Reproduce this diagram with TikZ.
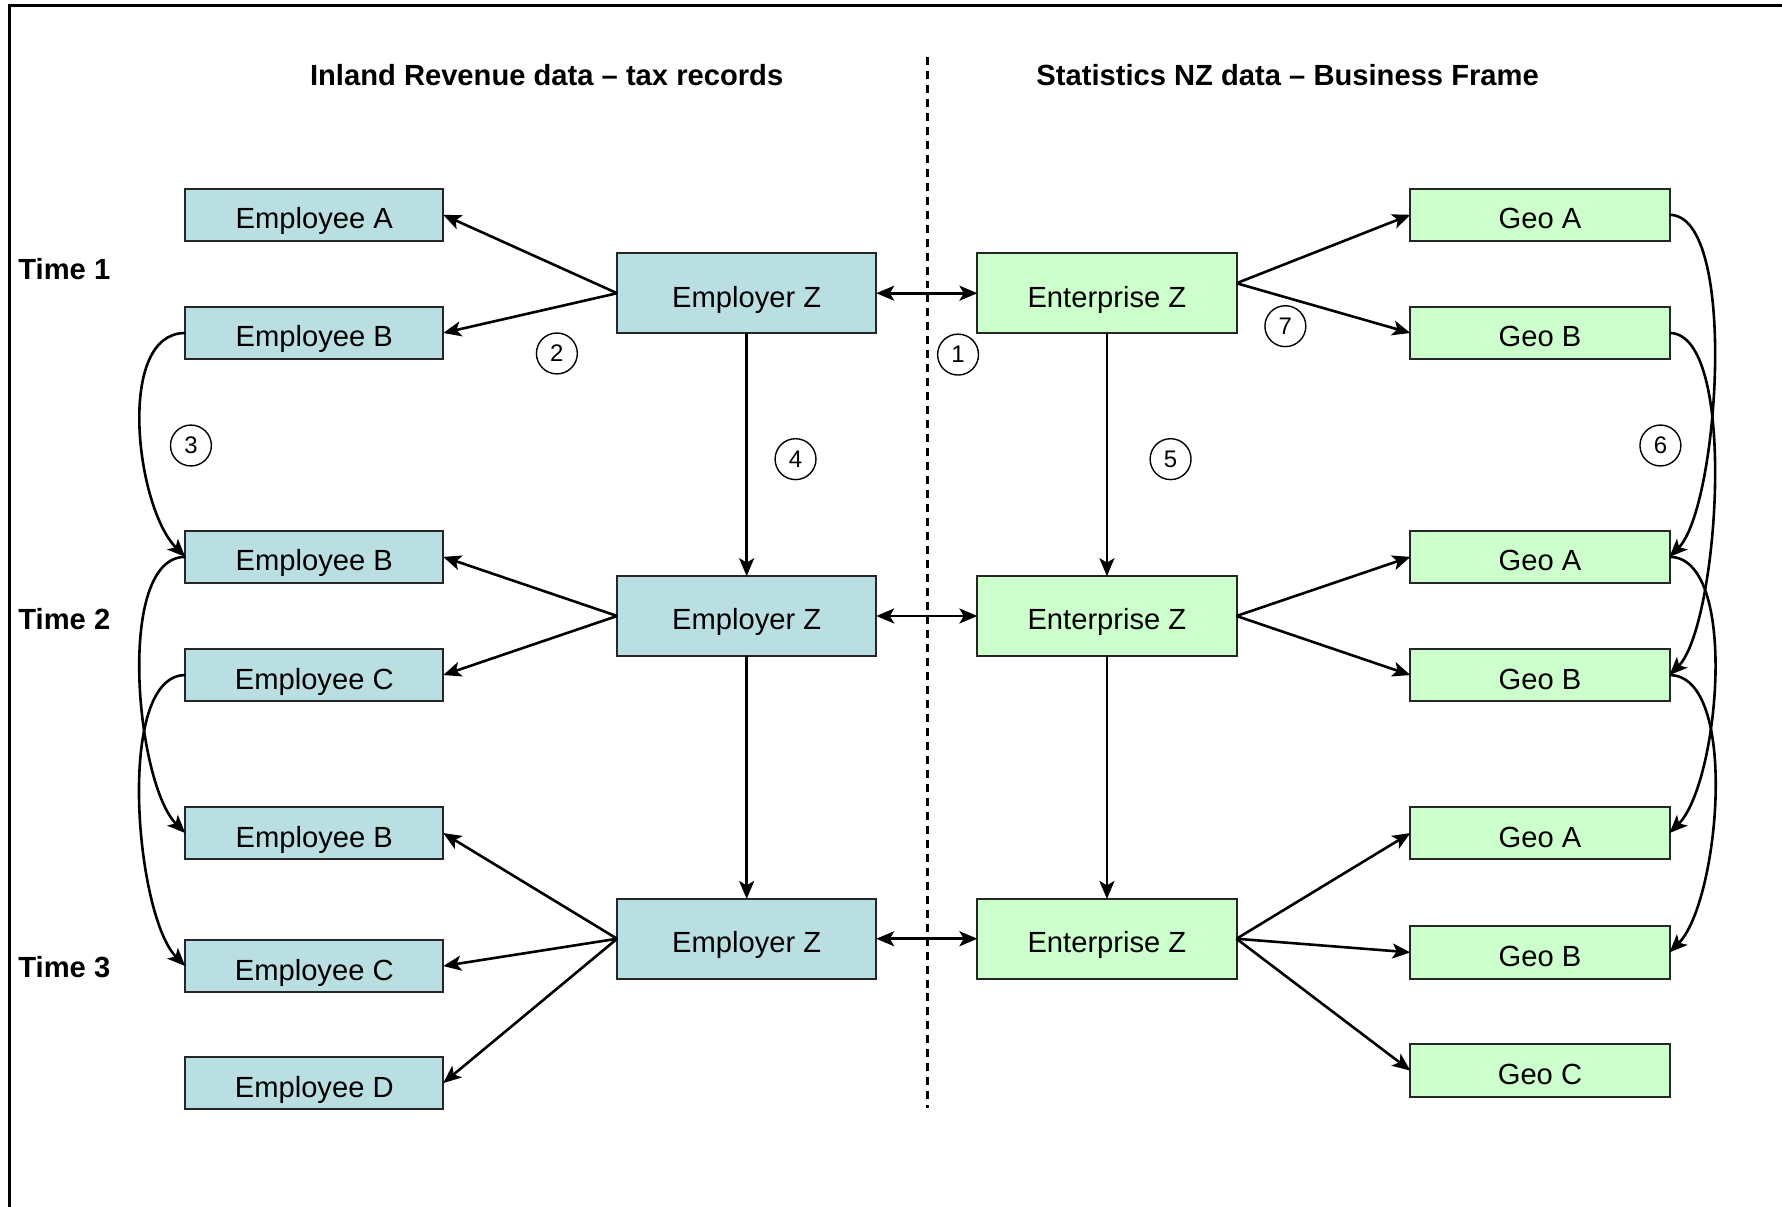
\documentclass[tikz,border=0pt]{standalone}
\usepackage{fontspec}
\setmainfont{Liberation Sans}
\usepackage{tikz}
\usetikzlibrary{arrows.meta, positioning}
\usepackage{xcolor}
\definecolor{irblue}{HTML}{BADFE3}
\definecolor{snzgreen}{HTML}{CCFFCC}
\tikzstyle{empbox} = [rectangle, minimum width=4.54cm, minimum height=0.92cm, inner sep=0pt, outer sep=0pt, text height=14pt, text depth=0pt, draw=black!85, line width=1pt, fill=irblue]
\tikzstyle{geobox} = [empbox, minimum width=4.56cm, fill=snzgreen]
\tikzstyle{firmbox} = [empbox, minimum width=4.56cm, minimum height=1.40cm]
\tikzstyle{entbox} = [firmbox, fill=snzgreen]
\tikzstyle{arrow} = [line width=1.3pt,->,>={Stealth[length=9pt,width=7.5pt,inset=2.2pt]}]
\tikzstyle{dblarrow} = [arrow,<->]
\tikzstyle{numcirc} = [circle, draw, line width=0.7pt, minimum size=0.72cm, inner sep=0pt, font=\fontsize{12}{14}\selectfont]
\tikzstyle{heading} = [font=\bfseries\fontsize{14.6}{17}\selectfont]

\begin{document}
\begin{tikzpicture}[every node/.style={font=\fontsize{14.6}{17}\selectfont}]
  \useasboundingbox (0,0) rectangle (31.36,-21.24);
  % frame
  \draw[line width=1.5pt] (0.16,-21.24) -- (0.16,-0.10) -- (31.36,-0.10);

  \node[heading] (irhead) at (9.62,-1.32) {Inland Revenue data – tax records};
  \node[heading] (snzhead) at (22.66,-1.32) {Statistics NZ data – Business Frame};
  \coordinate (divtop) at (16.32,-1.0);
  \coordinate (divbot) at (16.32,-19.5);
  \draw[line width=1.2pt, dash pattern=on 4pt off 3pt] (divtop) -- (divbot);

  \node[heading, anchor=west] (time1) at (0.20,-4.74) {Time 1};
  \node[heading, anchor=west] (time2) at (0.20,-10.90) {Time 2};
  \node[heading, anchor=west] (time3) at (0.20,-17.02) {Time 3};

  % employers and enterprises
  \node[firmbox] (emp1) at (13.14,-5.16) {Employer Z};
  \node[firmbox, below=4.28cm of emp1] (emp2) {Employer Z};
  \node[firmbox, below=4.28cm of emp2] (emp3) {Employer Z};
  \node[entbox, right=1.78cm of emp1] (ent1) {Enterprise Z};
  \node[entbox, right=1.78cm of emp2] (ent2) {Enterprise Z};
  \node[entbox, right=1.78cm of emp3] (ent3) {Enterprise Z};

  % employees
  \node[empbox] (ea1) at (5.53,-3.78) {Employee A};
  \node[empbox, below=1.16cm of ea1] (eb1) {Employee B};
  \node[empbox, below=3.02cm of eb1] (eb2) {Employee B};
  \node[empbox, below=1.16cm of eb2] (ec2) {Employee C};
  \node[empbox, below=1.86cm of ec2] (eb3) {Employee B};
  \node[empbox, below=1.42cm of eb3] (ec3) {Employee C};
  \node[empbox, below=1.14cm of ec3] (ed3) {Employee D};

  % geographic units
  \node[geobox] (ga1) at (27.10,-3.78) {Geo A};
  \node[geobox, below=1.16cm of ga1] (gb1) {Geo B};
  \node[geobox, below=3.02cm of gb1] (ga2) {Geo A};
  \node[geobox, below=1.16cm of ga2] (gb2) {Geo B};
  \node[geobox, below=1.86cm of gb2] (ga3) {Geo A};
  \node[geobox, below=1.18cm of ga3] (gb3) {Geo B};
  \node[geobox, below=1.16cm of gb3] (gc3) {Geo C};

  \draw[arrow] (emp1.west) -- (ea1.east);
  \draw[arrow] (emp1.west) -- (eb1.east);
  \draw[arrow] (emp2.west) -- (eb2.east);
  \draw[arrow] (emp2.west) -- (ec2.east);
  \draw[arrow] (emp3.west) -- (eb3.east);
  \draw[arrow] (emp3.west) -- (ec3.east);
  \draw[arrow] (emp3.west) -- (ed3.east);

  \draw[dblarrow] (emp1.east) -- (ent1.west);
  \draw[dblarrow] (emp2.east) -- (ent2.west);
  \draw[dblarrow] (emp3.east) -- (ent3.west);

  \draw[arrow] (emp1) -- (emp2);
  \draw[arrow] (emp2) -- (emp3);
  \draw[arrow] (ent1) -- (ent2);
  \draw[arrow] (ent2) -- (ent3);

  \draw[arrow] ([yshift=5pt]ent1.east) -- (ga1.west);
  \draw[arrow] ([yshift=5pt]ent1.east) -- (gb1.west);
  \draw[arrow] (ent2.east) -- (ga2.west);
  \draw[arrow] (ent2.east) -- (gb2.west);
  \draw[arrow] (ent3.east) -- (ga3.west);
  \draw[arrow] (ent3.east) -- (gb3.west);
  \draw[arrow] (ent3.east) -- (gc3.west);

  % links over time
  \draw[arrow] (eb1.west) to[out=180, in=135, looseness=0.8] (eb2.west);
  \draw[arrow] (eb2.west) to[out=180, in=135, looseness=0.65] (eb3.west);
  \draw[arrow] (ec2.west) to[out=180, in=135, looseness=0.62] (ec3.west);
  \draw[arrow] (ga1.east) to[out=0, in=45, looseness=0.52] (ga2.east);
  \draw[arrow] (gb1.east) to[out=0, in=45, looseness=0.52] (gb2.east);
  \draw[arrow] (ga2.east) to[out=0, in=45, looseness=0.65] (ga3.east);
  \draw[arrow] (gb2.east) to[out=0, in=45, looseness=0.65] (gb3.east);

  \node[numcirc] (n1) at (16.86,-6.24) {1};
  \node[numcirc] (n2) at (9.80,-6.22) {2};
  \node[numcirc] (n3) at (3.36,-7.84) {3};
  \node[numcirc] (n4) at (14.00,-8.08) {4};
  \node[numcirc] (n5) at (20.60,-8.08) {5};
  \node[numcirc] (n6) at (29.22,-7.84) {6};
  \node[numcirc] (n7) at (22.62,-5.74) {7};
\end{tikzpicture}
\end{document}
